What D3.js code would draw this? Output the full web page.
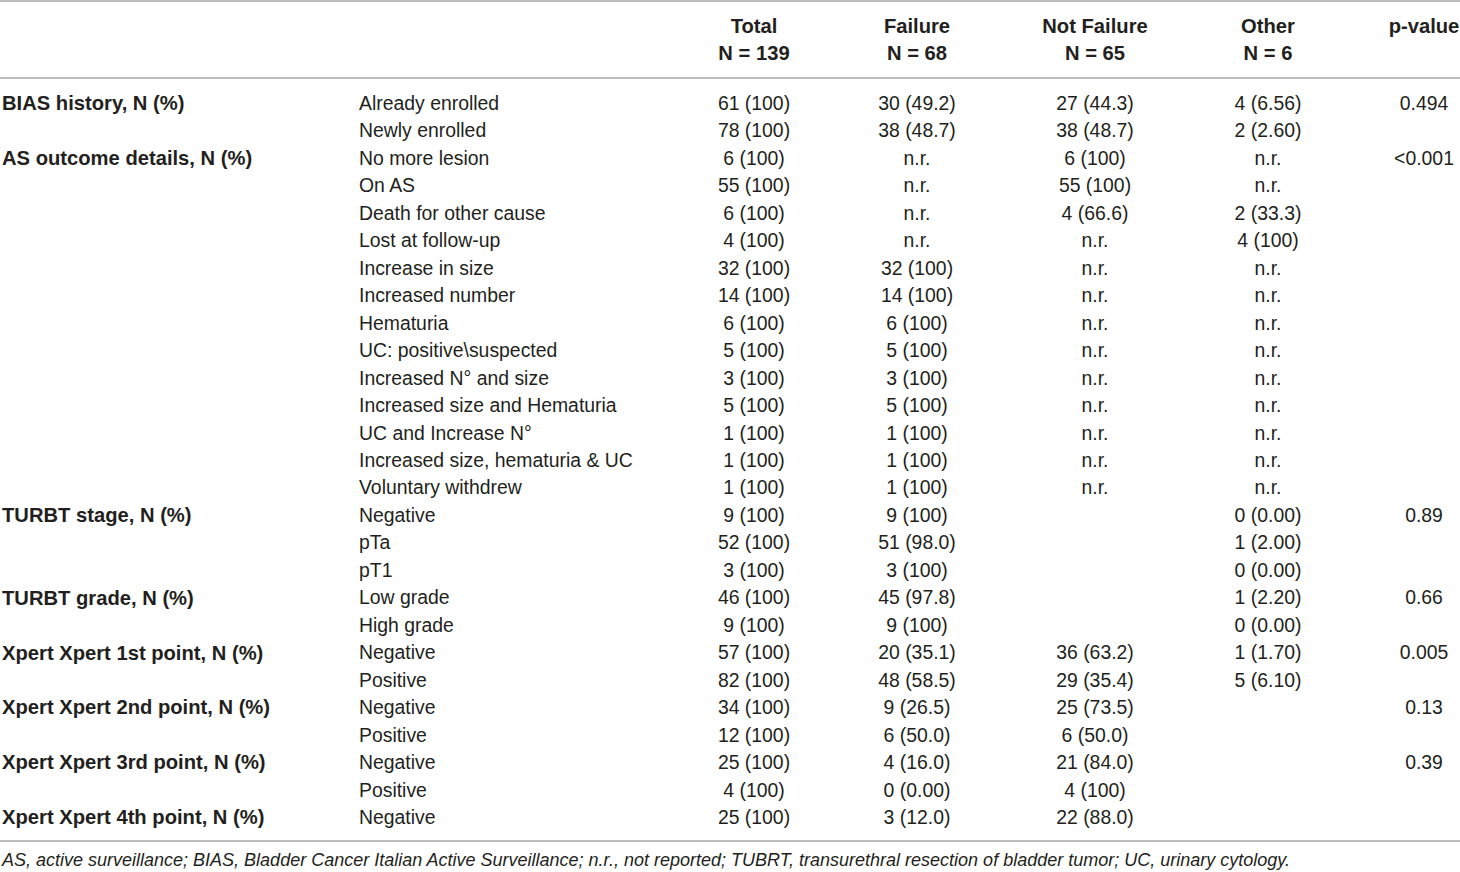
<!DOCTYPE html>
<html>
<head>
<meta charset="utf-8">
<script src="https://cdn.jsdelivr.net/npm/d3@7"></script>
<style>
  body { margin: 0; background: #fff; }
  svg text { font-family: "Liberation Sans", Arial, sans-serif; fill: #231f20; }
</style>
</head>
<body>
<div id="table"></div>
<script>
// Table content
const headers = [
  ["Total", "N = 139"],
  ["Failure", "N = 68"],
  ["Not Failure", "N = 65"],
  ["Other", "N = 6"],
  ["p-value", ""]
];

const groups = [
  "BIAS history, N (%)", "",
  "AS outcome details, N (%)", "", "", "", "", "", "", "", "", "", "", "", "",
  "TURBT stage, N (%)", "", "",
  "TURBT grade, N (%)", "",
  "Xpert Xpert 1st point, N (%)", "",
  "Xpert Xpert 2nd point, N (%)", "",
  "Xpert Xpert 3rd point, N (%)", "",
  "Xpert Xpert 4th point, N (%)"
];

const levels = [
  "Already enrolled", "Newly enrolled",
  "No more lesion", "On AS", "Death for other cause", "Lost at follow-up",
  "Increase in size", "Increased number", "Hematuria", "UC: positive\\suspected",
  "Increased N° and size", "Increased size and Hematuria", "UC and Increase N°",
  "Increased size, hematuria & UC", "Voluntary withdrew",
  "Negative", "pTa", "pT1",
  "Low grade", "High grade",
  "Negative", "Positive",
  "Negative", "Positive",
  "Negative", "Positive",
  "Negative"
];

const total = [
  "61 (100)", "78 (100)",
  "6 (100)", "55 (100)", "6 (100)", "4 (100)", "32 (100)", "14 (100)", "6 (100)",
  "5 (100)", "3 (100)", "5 (100)", "1 (100)", "1 (100)", "1 (100)",
  "9 (100)", "52 (100)", "3 (100)",
  "46 (100)", "9 (100)",
  "57 (100)", "82 (100)",
  "34 (100)", "12 (100)",
  "25 (100)", "4 (100)",
  "25 (100)"
];

const failure = [
  "30 (49.2)", "38 (48.7)",
  "n.r.", "n.r.", "n.r.", "n.r.", "32 (100)", "14 (100)", "6 (100)",
  "5 (100)", "3 (100)", "5 (100)", "1 (100)", "1 (100)", "1 (100)",
  "9 (100)", "51 (98.0)", "3 (100)",
  "45 (97.8)", "9 (100)",
  "20 (35.1)", "48 (58.5)",
  "9 (26.5)", "6 (50.0)",
  "4 (16.0)", "0 (0.00)",
  "3 (12.0)"
];

const notFailure = [
  "27 (44.3)", "38 (48.7)",
  "6 (100)", "55 (100)", "4 (66.6)", "n.r.", "n.r.", "n.r.", "n.r.",
  "n.r.", "n.r.", "n.r.", "n.r.", "n.r.", "n.r.",
  "", "", "",
  "", "",
  "36 (63.2)", "29 (35.4)",
  "25 (73.5)", "6 (50.0)",
  "21 (84.0)", "4 (100)",
  "22 (88.0)"
];

const other = [
  "4 (6.56)", "2 (2.60)",
  "n.r.", "n.r.", "2 (33.3)", "4 (100)", "n.r.", "n.r.", "n.r.",
  "n.r.", "n.r.", "n.r.", "n.r.", "n.r.", "n.r.",
  "0 (0.00)", "1 (2.00)", "0 (0.00)",
  "1 (2.20)", "0 (0.00)",
  "1 (1.70)", "5 (6.10)",
  "", "",
  "", "",
  ""
];

const pValue = [
  "0.494", "",
  "<0.001", "", "", "", "", "", "", "", "", "", "", "", "",
  "0.89", "", "",
  "0.66", "",
  "0.005", "",
  "0.13", "",
  "0.39", "",
  ""
];

const footnote = "AS, active surveillance; BIAS, Bladder Cancer Italian Active Surveillance; n.r., not reported; TUBRT, transurethral resection of bladder tumor; UC, urinary cytology.";

const width = 1460, height = 872;
const fontSize = 19.4;
const boldSize = 20.2;

const svg = d3.select("#table")
  .append("svg")
  .attr("width", width)
  .attr("height", height);

// Row positions (centre of each text line)
const y = d3.scalePoint()
  .domain(d3.range(levels.length))
  .range([103, 817]);

// Centred value columns
const valueCols = [total, failure, notFailure, other, pValue];
const colX = d3.scaleOrdinal()
  .domain(d3.range(valueCols.length))
  .range([754, 917, 1095, 1268, 1424]);

// Rules
const rules = [1, 78, 841];
svg.selectAll("line.rule")
  .data(rules)
  .enter().append("line")
  .attr("class", "rule")
  .attr("x1", 0)
  .attr("x2", width)
  .attr("y1", d => d)
  .attr("y2", d => d)
  .attr("stroke", "#a7a7a7")
  .attr("stroke-width", 1.6);

// Header
const head = svg.selectAll("g.head")
  .data(headers)
  .enter().append("g")
  .attr("class", "head")
  .attr("transform", (d, i) => `translate(${colX(i)},0)`);

head.selectAll("text")
  .data(d => d)
  .enter().append("text")
  .attr("y", (d, i) => i === 0 ? 26 : 53)
  .attr("dy", "0.36em")
  .attr("text-anchor", "middle")
  .attr("font-size", boldSize)
  .attr("font-weight", "bold")
  .text(d => d);

// Group labels
svg.selectAll("text.group")
  .data(groups)
  .enter().append("text")
  .attr("class", "group")
  .attr("x", 2)
  .attr("y", (d, i) => y(i))
  .attr("dy", "0.36em")
  .attr("font-size", boldSize)
  .attr("font-weight", "bold")
  .text(d => d);

// Level labels
svg.selectAll("text.level")
  .data(levels)
  .enter().append("text")
  .attr("class", "level")
  .attr("x", 359)
  .attr("y", (d, i) => y(i))
  .attr("dy", "0.36em")
  .attr("font-size", fontSize)
  .text(d => d);

// Value cells
valueCols.forEach((col, c) => {
  svg.selectAll(`text.val${c}`)
    .data(col)
    .enter().append("text")
    .attr("class", `val${c}`)
    .attr("x", colX(c))
    .attr("y", (d, i) => y(i))
    .attr("dy", "0.36em")
    .attr("text-anchor", "middle")
    .attr("font-size", fontSize)
    .text(d => d);
});

// Footnote
svg.append("text")
  .attr("x", 2)
  .attr("y", 860)
  .attr("dy", "0.36em")
  .attr("font-size", 18)
  .attr("font-style", "italic")
  .text(footnote);
</script>
</body>
</html>
